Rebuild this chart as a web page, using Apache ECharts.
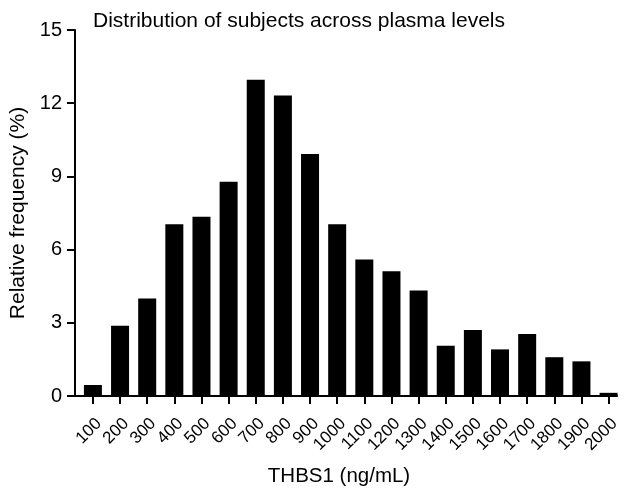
<!DOCTYPE html>
<html>
<head>
<meta charset="utf-8">
<script src="https://cdn.jsdelivr.net/npm/echarts@6/dist/echarts.min.js"></script>
<style>
html,body{margin:0;padding:0;background:#fff;}
#chart{width:624px;height:489px;}
</style>
</head>
<body>
<div id="chart"></div>
<script>
const binCenters = [100,200,300,400,500,600,700,800,900,1000,1100,1200,1300,1400,1500,1600,1700,1800,1900,2000];
const frequencies = [0.45,2.88,4.0,7.04,7.35,8.78,12.96,12.32,9.92,7.04,5.59,5.11,4.32,2.06,2.70,1.91,2.54,1.59,1.42,0.13];
const yTicks = [0,3,6,9,12,15];
const titleText = 'Distribution of subjects across plasma levels';
const xName = 'THBS1 (ng/mL)';
const yName = 'Relative frequency (%)';

const FONT = 'Liberation Sans, Arial, sans-serif';
const chart = echarts.init(document.getElementById('chart'), null, {renderer:'canvas'});
chart.setOption({
  animation:false,
  backgroundColor:'#fff',
  title:{text:titleText,left:93,top:11,padding:0,textStyle:{fontFamily:FONT,fontSize:21,fontWeight:'normal',color:'#000'}},
  grid:{left:75,right:7,top:30,bottom:93,containLabel:false,outerBoundsMode:'none'},
  xAxis:{
    type:'value',min:34,max:2031,
    name:xName,nameLocation:'middle',nameGap:70,
    nameTextStyle:{fontFamily:FONT,fontSize:20.5,color:'#000',padding:[0,14,0,0]},
    axisLine:{show:true,lineStyle:{color:'#000',width:2}},
    axisTick:{show:true,length:8,lineStyle:{color:'#000',width:2},customValues:binCenters},
    axisLabel:{rotate:45,fontFamily:FONT,fontSize:17,color:'#000',margin:19,verticalAlign:'top',customValues:binCenters,
      formatter:function(v){return String(v);}},
    splitLine:{show:false}
  },
  yAxis:{
    type:'value',min:0,max:15,interval:3,
    name:yName,nameLocation:'middle',nameGap:44,nameRotate:90,
    nameTextStyle:{fontFamily:FONT,fontSize:21,color:'#000'},
    axisLine:{show:true,lineStyle:{color:'#000',width:2}},
    axisTick:{show:true,length:8,lineStyle:{color:'#000',width:2}},
    axisLabel:{fontFamily:FONT,fontSize:20,color:'#000',margin:13,customValues:yTicks},
    splitLine:{show:false}
  },
  series:[{
    type:'bar',barWidth:18,
    itemStyle:{color:'#000'},
    data:binCenters.map((c,i)=>[c,frequencies[i]])
  }]
});
</script>
</body>
</html>
